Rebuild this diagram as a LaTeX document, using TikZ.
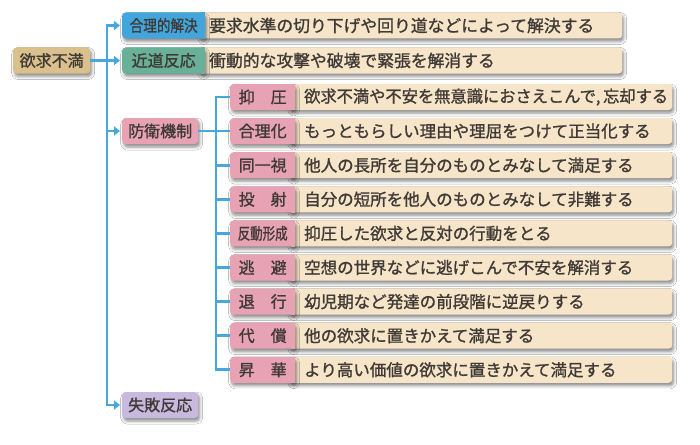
\documentclass[tikz,border=0pt]{standalone}
\usepackage{fontspec}
\usepackage{graphicx}
\setmainfont{Noto Sans CJK JP}[FakeBold=1.2]
\usetikzlibrary{arrows.meta,shadows,shadows.blur}
\definecolor{lineblue}{RGB}{70,168,222}
\definecolor{labblue}{RGB}{66,165,220}
\definecolor{labgreen}{RGB}{104,176,152}
\definecolor{labpink}{RGB}{231,163,180}
\definecolor{labpurple}{RGB}{200,186,222}
\definecolor{roottan}{RGB}{218,192,140}
\definecolor{desctan}{RGB}{246,229,200}
\definecolor{txt}{RGB}{64,58,54}
\begin{document}
\begin{tikzpicture}[x=1pt,y=-1pt,
  box/.style={rounded corners=3.5pt, inner ysep=0pt, inner xsep=0pt,
    minimum height=26pt, text=txt, font=\fontsize{16}{18}\selectfont,
    blur shadow={shadow xshift=1.5pt, shadow yshift=-3pt, shadow blur radius=3pt, shadow opacity=45}},
  topdesc/.style={box, fill=desctan, anchor=west, inner xsep=10pt, text width=403pt, align=left,
    font=\fontsize{16.8}{18}\selectfont},
  subdesc/.style={box, fill=desctan, anchor=west, inner xsep=15pt, text width=353pt, align=left,
    font=\fontsize{16.5}{18}\selectfont},
  toplab/.style={box, minimum width=83pt, anchor=west},
  midlab/.style={box, minimum width=76pt, anchor=west},
  sublab/.style={box, fill=labpink, minimum width=65pt, anchor=west},
  conn/.style={line width=2.8pt, draw=lineblue},
  tip/.tip={Triangle[length=6pt,width=9pt]},
  arr/.style={conn, -tip, shorten >=2pt}
]
\useasboundingbox (0,0) rectangle (700,444);
\fill[white] (0,0) rectangle (700,444);

% root
\node[midlab, fill=roottan, minimum width=77pt] (root) at (13,60.5) {欲求不満};

% top-level descriptions
\node[topdesc] (d1) at (199,25.5) {要求水準の切り下げや回り道などによって解決する};
\node[topdesc] (d2) at (199,60.5) {衝動的な攻撃や破壊で緊張を解消する};
\node[toplab, fill=labblue] (gouri) at (122,25.5) {\scalebox{0.85}[1]{合理的解決}};
\node[toplab, fill=labgreen] (kindo) at (122,60.5) {近道反応};

\node[midlab, fill=labpink] (bouei) at (122,131) {防衛機制};
\node[midlab, fill=labpurple] (shippai) at (122,405) {失敗反応};

% sub descriptions
\node[subdesc] (s1) at (289,97)    {\scalebox{0.985}[1]{欲求不満や不安を無意識におさえこんで,\,忘却する}};
\node[subdesc] (s2) at (289,131)   {もっともらしい理由や理屈をつけて正当化する};
\node[subdesc] (s3) at (289,165.2) {他人の長所を自分のものとみなして満足する};
\node[subdesc] (s4) at (289,199.3) {自分の短所を他人のものとみなして非難する};
\node[subdesc] (s5) at (289,233.4) {抑圧した欲求と反対の行動をとる};
\node[subdesc] (s6) at (289,267.5) {空想の世界などに逃げこんで不安を解消する};
\node[subdesc] (s7) at (289,301.6) {幼児期など発達の前段階に逆戻りする};
\node[subdesc] (s8) at (289,335.7) {他の欲求に置きかえて満足する};
\node[subdesc] (s9) at (289,369.8) {より高い価値の欲求に置きかえて満足する};

\node[sublab] (yokuatsu) at (230,97)    {抑　圧};
\node[sublab] (gourika)  at (230,131)   {合理化};
\node[sublab] (douitsu)  at (230,165.2) {同一視};
\node[sublab] (tousha)   at (230,199.3) {投　射};
\node[sublab] (handou)   at (230,233.4) {\scalebox{0.78}[1]{反動形成}};
\node[sublab] (touhi)    at (230,267.5) {逃　避};
\node[sublab] (taikou)   at (230,301.6) {退　行};
\node[sublab] (daishou)  at (230,335.7) {代　償};
\node[sublab] (shouka)   at (230,369.8) {昇　華};

% square off the joins between labels and descriptions
\foreach \n/\c in {gouri/labblue,kindo/labgreen,yokuatsu/labpink,gourika/labpink,
  douitsu/labpink,tousha/labpink,handou/labpink,touhi/labpink,taikou/labpink,
  daishou/labpink,shouka/labpink}
  \fill[\c] ([xshift=-4pt]\n.north east) rectangle (\n.south east);

% connectors
\coordinate (trunk) at (107,0);
\coordinate (sub) at (216,0);
\draw[conn, tip-tip, shorten <=2pt, shorten >=2pt]
  (gouri.west) -- (gouri.west -| trunk) -- (shippai.west -| trunk) -- (shippai.west);
\draw[arr] (root.east) -- (kindo.west);
\draw[arr] (bouei.west -| trunk) -- (bouei.west);
\draw[conn] (yokuatsu.west) -- (yokuatsu.west -| sub) -- (shouka.west -| sub) -- (shouka.west);
\draw[conn] (bouei.east) -- (gourika.west);
\foreach \n in {douitsu,tousha,handou,touhi,taikou,daishou}
  \draw[conn] (\n.west -| sub) -- (\n.west);
\end{tikzpicture}
\end{document}
